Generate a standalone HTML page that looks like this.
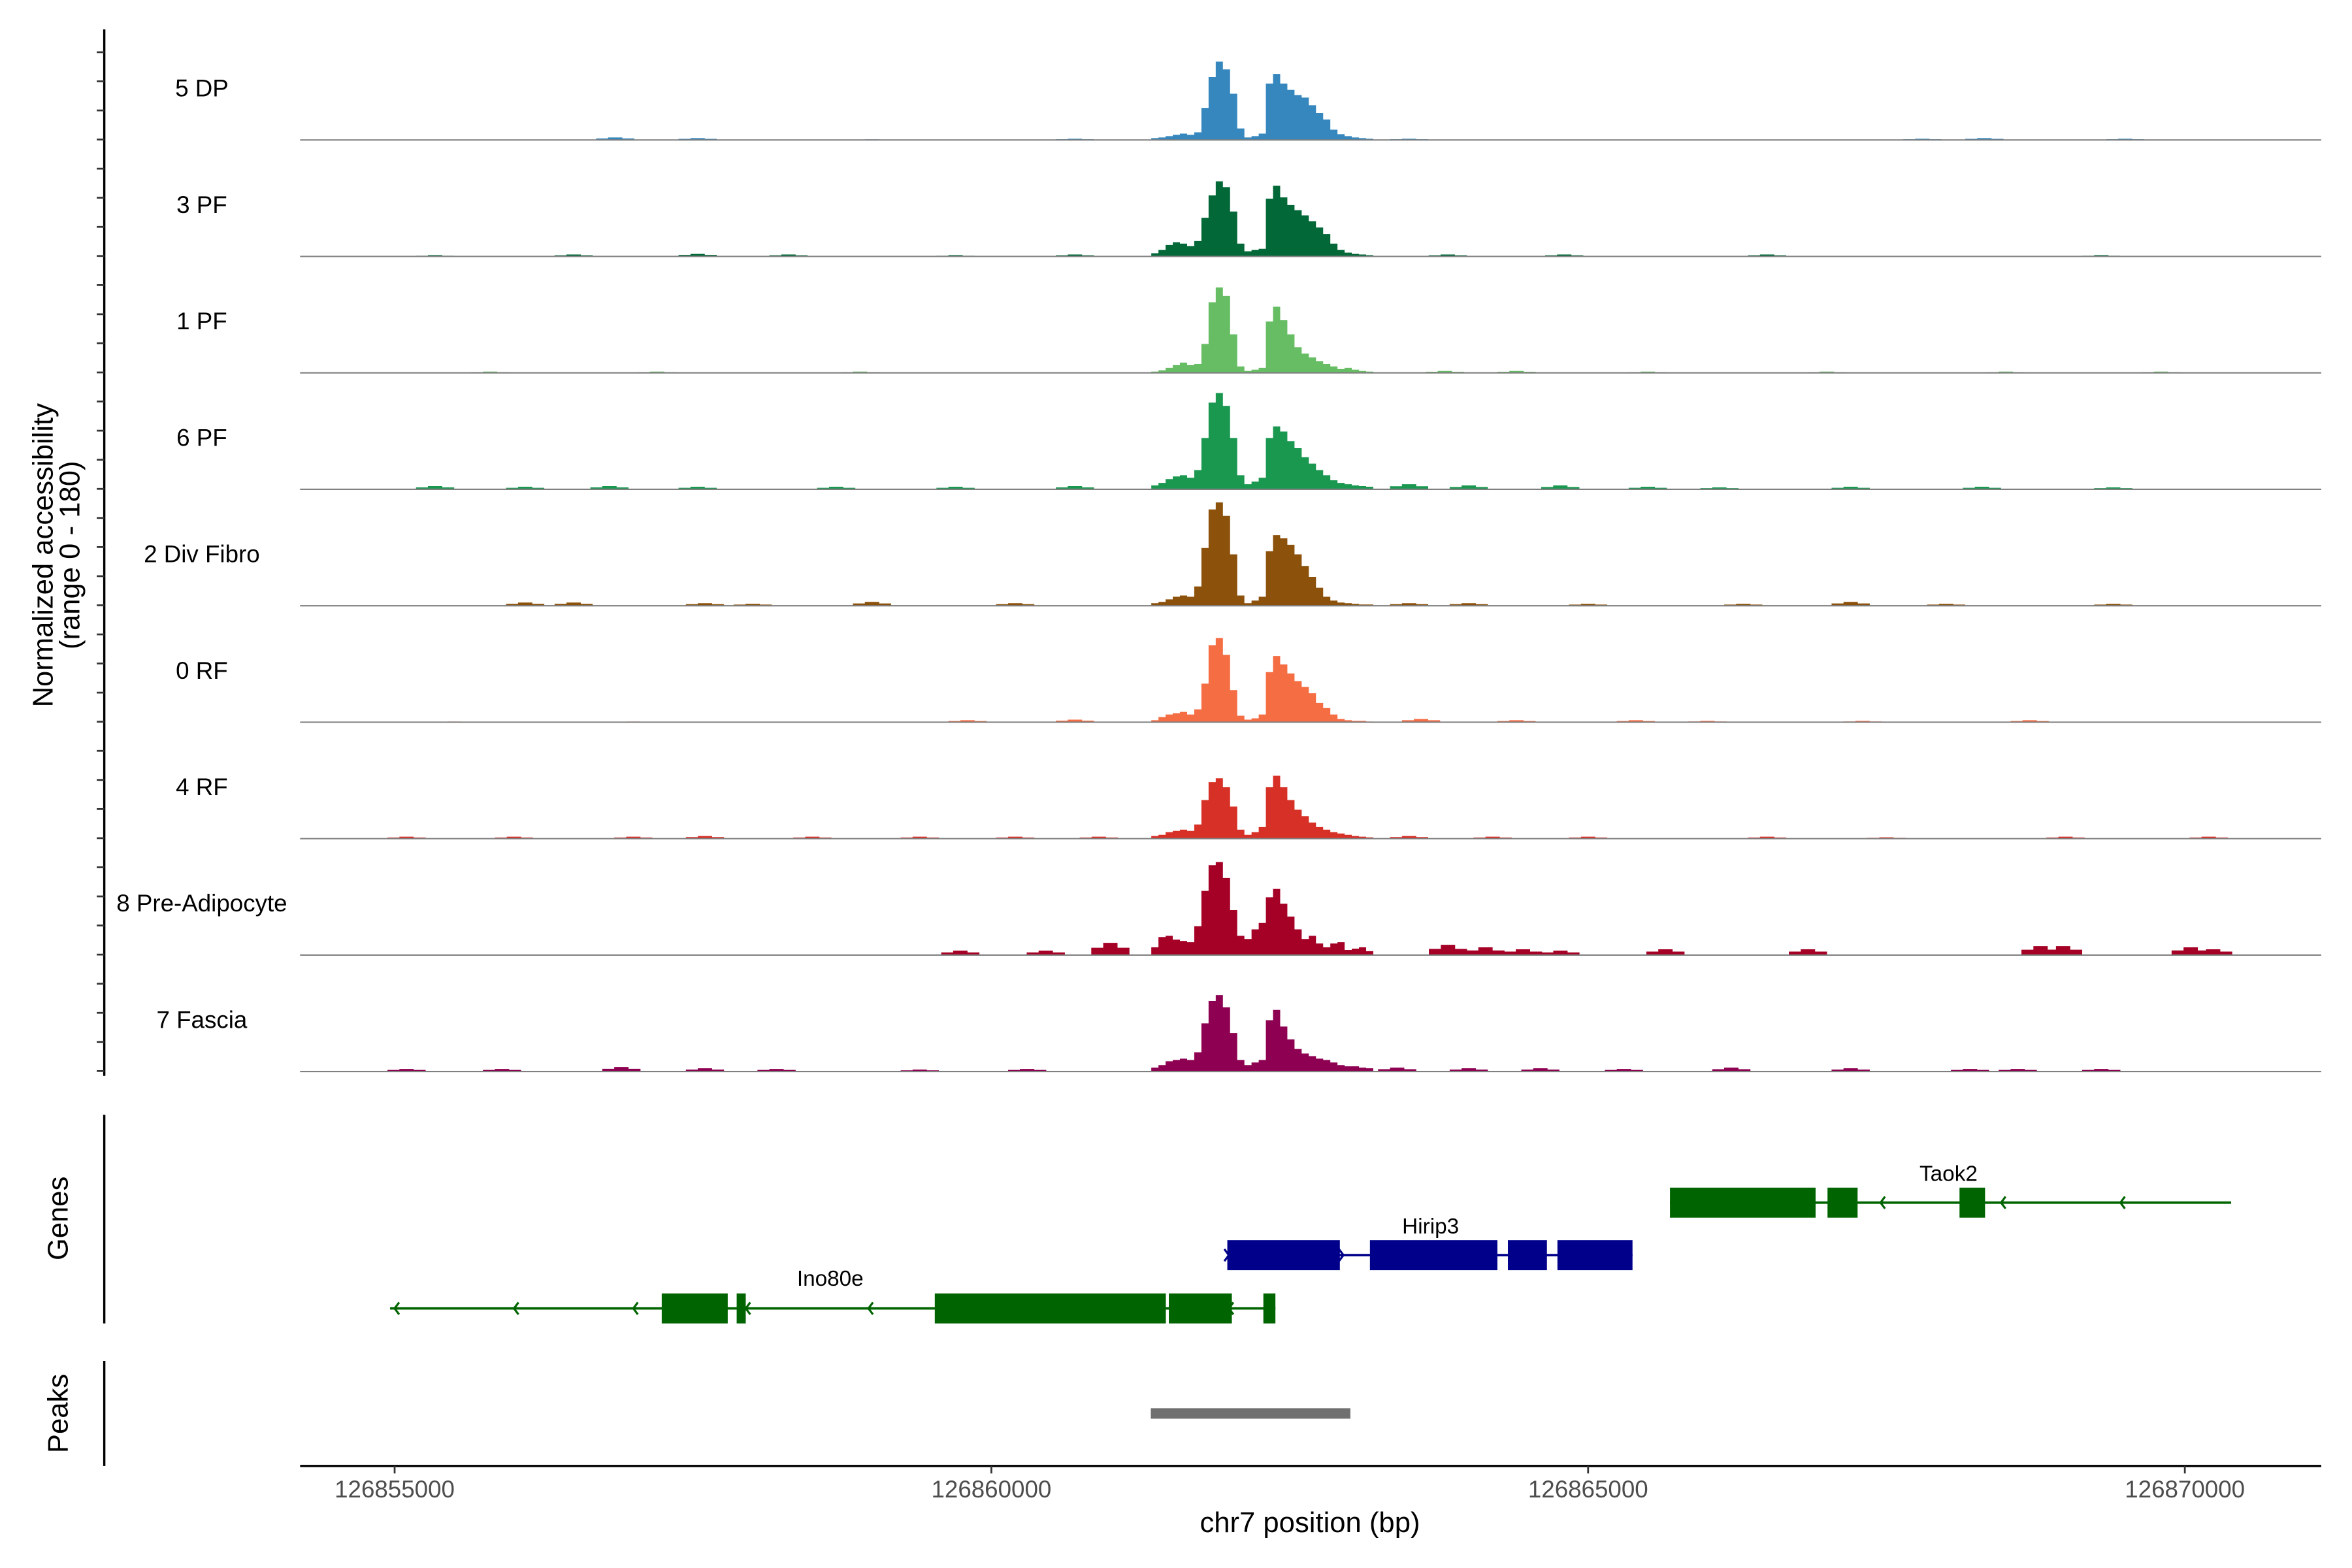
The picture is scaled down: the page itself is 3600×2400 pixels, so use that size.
<!DOCTYPE html>
<html><head><meta charset="utf-8"><style>
html,body{margin:0;padding:0;background:#fff;}
svg{display:block;font-family:"Liberation Sans",Arial,sans-serif;}
</style></head>
<body>
<svg id="chart" width="3600" height="2400" viewBox="0 0 1567.5 1045" xmlns="http://www.w3.org/2000/svg">
<g id="tracks"></g>
<g id="yaxis"></g>
<text transform="translate(35,370) rotate(-90)" text-anchor="middle" font-size="19" fill="#000">Normalized accessibility</text>
<text transform="translate(53,370) rotate(-90)" text-anchor="middle" font-size="19" fill="#000">(range 0 - 180)</text>
<g id="genes"></g>
<g id="peaks"></g>
<g id="xaxis"></g>
<text x="873" y="1021" text-anchor="middle" font-size="19" fill="#000">chr7 position (bp)</text>
</svg>
<script>
const trackNames = ["5 DP","3 PF","1 PF","6 PF","2 Div Fibro","0 RF","4 RF","8 Pre-Adipocyte","7 Fascia"];
const trackColors = ["#3587be","#026838","#66bd63","#1a9850","#8c510a","#f46d43","#d73027","#a50026","#8e0152"];
const gridStart = 126861340;
const gridStep = 60;
const peakVals5DP = [3,4,6,8,10,8,12,50,98,122,110,72,18,4,6,10,88,103,88,78,70,66,54,42,32,16,9,6,4,3,2];
const peakVals3PF = [5,10,18,22,20,16,24,60,95,117,108,70,20,8,10,12,90,110,92,80,72,64,55,45,35,20,10,6,4,3,2];
const peakVals1PF = [2,4,8,12,16,12,14,45,110,133,120,60,10,3,5,8,80,103,82,60,40,30,24,18,14,10,6,8,5,3,2];
const peakVals6PF = [6,10,16,20,22,18,30,80,135,150,130,80,22,8,12,18,80,98,90,75,64,50,40,30,22,14,10,8,6,5,4];
const peakVals2Div = [4,6,10,14,16,14,30,90,150,161,140,80,16,4,8,14,85,110,105,95,80,62,45,28,14,8,5,4,3,2,2];
const peakVals0RF = [3,8,12,14,16,12,20,60,120,131,105,50,10,4,6,12,78,103,90,76,64,55,45,30,22,12,5,3,2,2,1];
const peakVals4RF = [4,6,10,12,14,12,22,60,88,94,80,50,14,6,10,18,80,98,80,60,45,35,25,18,14,10,8,6,4,3,2];
const peakVals8Pre = [12,28,30,24,22,20,45,100,140,145,120,70,30,25,40,50,90,103,80,60,40,25,30,18,12,18,20,8,10,12,6];
const peakVals7Fas = [6,10,16,18,20,18,30,75,110,119,100,60,18,10,14,18,80,96,70,50,35,28,24,20,18,14,10,8,8,6,5];
const peakSeries = [peakVals5DP,peakVals3PF,peakVals1PF,peakVals6PF,peakVals2Div,peakVals0RF,peakVals4RF,peakVals8Pre,peakVals7Fas];
const bgPos5DP = [126856848,126857539,126859000,126860700,126863500,126867800,126868320,126869500];
const bgVal5DP = [4,3,1,2,2,2,3,2];
const bgPos3PF = [126855339,126856500,126857539,126858300,126859700,126860700,126863824,126864800,126866500,126869300];
const bgVal3PF = [2,3,4,3,2,3,3,3,3,2];
const bgPos1PF = [126855800,126857200,126858900,126863800,126864400,126865500,126867000,126868500,126869800];
const bgVal1PF = [2,2,2,3,3,2,2,2,2];
const bgPos6PF = [126855339,126856094,126856800,126857539,126858700,126859700,126860700,126863500,126864000,126864767,126865500,126866100,126867200,126868300,126869400];
const bgVal6PF = [5,4,5,4,4,4,5,8,6,6,4,3,4,4,3];
const bgPos2Div = [126856094,126856500,126857600,126858000,126859000,126860200,126863500,126864000,126865000,126866300,126867200,126868000,126869400];
const bgVal2Div = [5,5,4,3,6,4,4,4,3,3,6,3,3];
const bgPos0RF = [126855500,126857000,126859800,126860700,126863600,126864400,126865400,126866000,126867300,126868700];
const bgVal0RF = [1,1,3,4,5,3,3,2,2,3];
const bgPos4RF = [126855100,126856000,126857000,126857600,126858500,126859400,126860200,126860900,126863500,126864200,126865000,126866500,126867500,126869000,126870200];
const bgVal4RF = [3,3,3,4,3,3,3,3,4,3,3,3,2,3,3];
const bgPos8Pre = [126859740,126860456,126860997,126863826,126864140,126864454,126864768,126865648,126866842,126868791,126868980,126870049,126870237];
const bgVal8Pre = [7,7,19,16,12,9,7,9,9,14,14,12,9];
const bgPos7Fas = [126855100,126855900,126856900,126857600,126858200,126859400,126860300,126863400,126864000,126864600,126865300,126866200,126867200,126868200,126868600,126869300];
const bgVal7Fas = [4,4,7,5,4,3,4,6,5,5,4,6,5,4,4,4];
const bgPosSeries = [bgPos5DP,bgPos3PF,bgPos1PF,bgPos6PF,bgPos2Div,bgPos0RF,bgPos4RF,bgPos8Pre,bgPos7Fas];
const bgValSeries = [bgVal5DP,bgVal3PF,bgVal1PF,bgVal6PF,bgVal2Div,bgVal0RF,bgVal4RF,bgVal8Pre,bgVal7Fas];
const xTicks = [126855000,126860000,126865000,126870000];
const xTickLabels = ["126855000","126860000","126865000","126870000"];
const ino80eExonStart = [126857238,126857866,126859526,126861487,126862279];
const ino80eExonEnd = [126857791,126857942,126861462,126862015,126862380];
const ino80eSpan = [126854962,126862380];
const hirip3ExonStart = [126861977,126863172,126864328,126864743];
const hirip3ExonEnd = [126862920,126864240,126864655,126865372];
const hirip3Span = [126861977,126865372];
const taok2ExonStart = [126865686,126867006,126868112];
const taok2ExonEnd = [126866906,126867258,126868326];
const taok2Span = [126865686,126870388];
const peakRegionStart = [126861336];
const peakRegionEnd = [126863008];

const NS = "http://www.w3.org/2000/svg";
function x(bp){ return 263 + (bp - 126855000) / 5000 * 397.7; }
const trackStep = 77.6, firstBase = 93.3, yMax = 180, trackH = 77;
function yv(v, base){ return base - v / yMax * trackH; }
function mk(tag, attrs, parent){ const e = document.createElementNS(NS, tag); for (const k in attrs) e.setAttribute(k, attrs[k]); parent.appendChild(e); return e; }

const tg = document.getElementById('tracks');
for (let t = 0; t < trackNames.length; t++) {
  const base = firstBase + t * trackStep;
  const g = mk('g', {}, tg);
  
  
  const bp = bgPosSeries[t], bv = bgValSeries[t];
  for (let i = 0; i < bp.length; i++) {
    const x0 = x(bp[i] - 160), x1 = x(bp[i] + 160), xm0 = x(bp[i] - 60), xm1 = x(bp[i] + 60);
    const yt = yv(bv[i], base), yh = yv(bv[i] * 0.6, base);
    const p = mk('path', {d:`M${x0},${base}L${x0},${yh}L${xm0},${yh}L${xm0},${yt}L${xm1},${yt}L${xm1},${yh}L${x1},${yh}L${x1},${base}Z`, fill:trackColors[t]}, g);
    
    
  }
  const vals = peakSeries[t];
  let d = `M${x(gridStart)},${base}`;
  for (let i = 0; i < vals.length; i++) {
    const a = x(gridStart + i * gridStep), b = x(gridStart + (i + 1) * gridStep);
    const y = yv(vals[i], base);
    d += `L${a},${y}L${b},${y}`;
  }
  d += `L${x(gridStart + vals.length * gridStep)},${base}Z`;
  const area = mk('path', {d, fill:trackColors[t]}, g);
  
  
  const bl = mk('line', {x1:200, x2:1547, y1:base, y2:base, stroke:'#7f7f7f', 'stroke-width':0.9}, g);
  
  
  const lab = mk('text', {x:134.5, y:base - 29, 'text-anchor':'middle', 'font-size':16, fill:'#000'}, g);
  lab.textContent = trackNames[t];
  
  
}

const ya = document.getElementById('yaxis');
mk('line', {x1:69.5, x2:69.5, y1:19.6, y2:717, stroke:'#000', 'stroke-width':1.5}, ya);
for (let k = 0; k < 36; k++) {
  const yy = 34.8 + k * 19.4;
  if (yy > 717) break;
  mk('line', {x1:64.5, x2:69.5, y1:yy, y2:yy, stroke:'#333', 'stroke-width':1.2}, ya);
}

const gg = document.getElementById('genes');
mk('line', {x1:69.5, x2:69.5, y1:743, y2:882, stroke:'#000', 'stroke-width':1.5}, gg);
const gLab = mk('text', {transform:'translate(45,812) rotate(-90)', 'text-anchor':'middle', 'font-size':19, fill:'#000'}, gg);
gLab.textContent = 'Genes';


function drawGene(name, span, es, ee, yc, color, dir, arrowPos, labelBp, labelY) {
  const g = mk('g', {}, gg);
  
  
  mk('line', {x1:x(span[0]), x2:x(span[1]), y1:yc, y2:yc, stroke:color, 'stroke-width':1.6}, g);
  for (const ap of arrowPos) {
    const ax = x(ap), s = dir < 0 ? 1 : -1;
    mk('path', {d:`M${ax + s*3},${yc-4}L${ax},${yc}L${ax + s*3},${yc+4}`, fill:'none', stroke:color, 'stroke-width':1.4}, g);
  }
  for (let i = 0; i < es.length; i++) {
    const r = mk('rect', {x:x(es[i]), y:yc - 10, width:x(ee[i]) - x(es[i]), height:20, fill:color}, g);
    
    
  }
  const t = mk('text', {x:x(labelBp), y:labelY, 'text-anchor':'middle', 'font-size':14.5, fill:'#000'}, g);
  t.textContent = name;
  
  
}
drawGene('Ino80e', ino80eSpan, ino80eExonStart, ino80eExonEnd, 872, '#006400', -1,
  [126855000,126856000,126857000,126857942,126858970,126861990], 126858650, 857);
drawGene('Hirip3', hirip3Span, hirip3ExonStart, hirip3ExonEnd, 836.5, '#00008b', 1,
  [126861990,126862950], 126863680, 822);
drawGene('Taok2', taok2Span, taok2ExonStart, taok2ExonEnd, 801.5, '#006400', -1,
  [126867450,126868460,126869460], 126868020, 787);

const pg = document.getElementById('peaks');
mk('line', {x1:69.5, x2:69.5, y1:907, y2:977, stroke:'#000', 'stroke-width':1.5}, pg);
const pLab = mk('text', {transform:'translate(45,942) rotate(-90)', 'text-anchor':'middle', 'font-size':19, fill:'#000'}, pg);
pLab.textContent = 'Peaks';


for (let i = 0; i < peakRegionStart.length; i++) {
  const r = mk('rect', {x:x(peakRegionStart[i]), y:938.5, width:x(peakRegionEnd[i]) - x(peakRegionStart[i]), height:7, fill:'#707070'}, pg);
  
  
}

const xa = document.getElementById('xaxis');
mk('line', {x1:200, x2:1547, y1:977, y2:977, stroke:'#000', 'stroke-width':1.5}, xa);
for (let i = 0; i < xTicks.length; i++) {
  const xx = x(xTicks[i]);
  mk('line', {x1:xx, x2:xx, y1:977, y2:982, stroke:'#333', 'stroke-width':1.2}, xa);
  const t = mk('text', {x:xx, y:998, 'text-anchor':'middle', 'font-size':16, fill:'#4d4d4d'}, xa);
  t.textContent = xTickLabels[i];
  
  
}
</script>
</body></html>
